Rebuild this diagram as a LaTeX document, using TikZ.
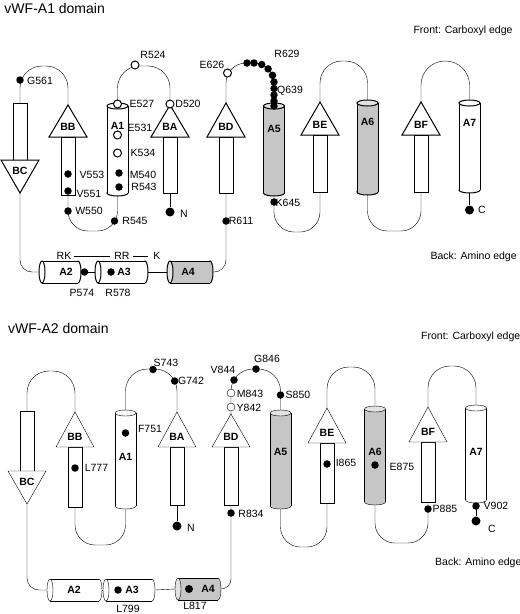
\documentclass[tikz,border=0pt]{standalone}
\usepackage{fontspec}
\setmainfont{Liberation Sans}
\pgfdeclarelayer{lines}
\pgfsetlayers{lines,main}
\colorlet{helixfill}{gray!45}
\tikzset{
  res/.style={circle, fill=black, inner sep=0pt, minimum size=7.5pt},
  bigres/.style={circle, fill=black, inner sep=0pt, minimum size=9pt},
  ores/.style={circle, draw=black, fill=white, inner sep=0pt, minimum size=8pt},
  lbl/.style={font=\fontsize{10.5}{12}\selectfont\bfseries, inner sep=0pt},
  txt/.style={font=\fontsize{10.5}{12}\selectfont, inner sep=0pt},
  ttl/.style={font=\fontsize{14}{16}\selectfont, inner sep=0pt, anchor=base west},
}
% strand pointing up: name, label, x, apex, base, bottom
\newcommand{\strandup}[6]{%
  \draw[fill=white] (#3-7,#5) rectangle (#3+7,#6);
  \draw[fill=white] (#3,#4) -- (#3-19,#5) -- (#3+19,#5) -- cycle;
  \node[lbl] (#1) at (#3,#5-10.5) {#2};
  \coordinate (#1-top) at (#3,#4);
  \coordinate (#1-bot) at (#3,#6);
}
% strand pointing down: name, label, x, top, base, tip
\newcommand{\stranddown}[6]{%
  \draw[fill=white] (#3-7,#4) rectangle (#3+7,#5);
  \draw[fill=white] (#3,#6) -- (#3-19,#5) -- (#3+19,#5) -- cycle;
  \node[lbl] (#1) at (#3,#5+11) {#2};
  \coordinate (#1-top) at (#3,#4);
  \coordinate (#1-bot) at (#3,#6);
}
% upright helix: name, label, x, top, bottom, fill, label y
\newcommand{\helixv}[7]{%
  \filldraw[fill=#6] (#3,#5) ellipse [x radius=10.5, y radius=3];
  \fill[#6] (#3-10.5,#4) rectangle (#3+10.5,#5);
  \draw (#3-10.5,#4) -- (#3-10.5,#5) (#3+10.5,#4) -- (#3+10.5,#5);
  \filldraw[fill=#6!50] (#3,#4) ellipse [x radius=10.5, y radius=3];
  \node[lbl] (#1) at (#3,#7) {#2};
  \coordinate (#1-top) at (#3,#4-3);
  \coordinate (#1-bot) at (#3,#5+3);
}
% lying helix: name, label, left, right, y, fill, label x
\newcommand{\helixh}[7]{%
  \filldraw[fill=#6] (#4,#5) ellipse [x radius=3, y radius=11];
  \fill[#6] (#3,#5-11) rectangle (#4,#5+11);
  \draw (#3,#5-11) -- (#4,#5-11) (#3,#5+11) -- (#4,#5+11);
  \filldraw[fill=#6!50] (#3,#5) ellipse [x radius=3, y radius=11];
  \node[lbl] (#1) at (#7,#5) {#2};
  \coordinate (#1-left) at (#3-3,#5);
  \coordinate (#1-right) at (#4+3,#5);
}
\begin{document}
\begin{tikzpicture}[x=1pt, y=-1pt, line width=1pt]
  \useasboundingbox (0,0) rectangle (520,614);

  % ---------- vWF-A1 ----------
  \node[ttl] (title1) at (4,13) {vWF-A1 domain};
  \node[txt, anchor=base west] (front1) at (413,33) {Front: Carboxyl edge};
  \node[txt, anchor=base west] (back1) at (430,259) {Back: Amino edge};

  % Elements
  \stranddown{BCt}{BC}{20}{103}{160}{193}
  \strandup{BBt}{BB}{68}{105}{137}{195}
  \strandup{BAt}{BA}{170}{105}{137}{193}
  \strandup{BDt}{BD}{226}{103}{137}{193}
  \strandup{BEt}{BE}{320}{102}{135}{192}
  \strandup{BFt}{BF}{421}{102}{135}{192}
  \helixv{A1t}{A1}{117.5}{106}{193}{white}{126}
  \helixv{A5t}{A5}{274}{106}{193}{helixfill}{129}
  \helixv{A6t}{A6}{367.5}{103}{192}{helixfill}{122}
  \helixv{A7t}{A7}{469.5}{103}{190}{white}{123}
  \helixh{A2t}{A2}{42}{78}{272}{white}{66}
  \helixh{A3t}{A3}{98}{145}{272}{white}{124}
  \helixh{A4t}{A4}{170}{210}{272}{helixfill}{188}

  % Residues
  \node[res] (G561) at (20,80) {};
  \node[ores] (R524) at (135,65) {};
  \node[ores] (E527) at (117.5,104) {};
  \node[ores] (D520) at (170,104) {};
  \node[ores] (E531) at (117.5,135) {};
  \node[ores] (K534) at (117.5,153) {};
  \node[res] (M540) at (119,173) {};
  \node[res] (R543) at (119,187) {};
  \node[res] (V553) at (68,174) {};
  \node[res] (V551) at (68,191) {};
  \node[res] (W550) at (68,211) {};
  \node[res] (R545) at (114.5,221) {};
  \node[bigres] (Nt) at (170,212) {};
  \node[ores] (E626) at (227.5,73) {};
  \foreach \x/\y [count=\i] in {247/63, 254/63, 261.7/64.5, 268.1/68.9, 272.5/75.3,
      274/82, 274/88.5, 274/95, 274/101, 274/106}
    \node[res] (loopdot\i) at (\x,\y) {};
  \node[res] (R611) at (226,221) {};
  \node[res] (K645) at (274,202) {};
  \node[bigres] (Ct) at (469.5,210) {};
  \node[res] (P574) at (84.5,272) {};
  \node[res] (R578) at (111,272) {};

  % Labels
  \node[txt] (G561-l) at (40,81) {G561};
  \node[txt] (R524-l) at (153,55) {R524};
  \node[txt] (E527-l) at (142,104) {E527};
  \node[txt] (D520-l) at (188,104) {D520};
  \node[txt] (E531-l) at (140,128) {E531};
  \node[txt] (K534-l) at (143,153) {K534};
  \node[txt] (M540-l) at (143,175) {M540};
  \node[txt] (R543-l) at (144,187) {R543};
  \node[txt] (V553-l) at (92,175) {V553};
  \node[txt] (V551-l) at (89,194) {V551};
  \node[txt] (W550-l) at (89,211) {W550};
  \node[txt] (R545-l) at (135,221) {R545};
  \node[txt] (Nt-l) at (184,214) {N};
  \node[txt] (E626-l) at (212,65) {E626};
  \node[txt] (R629-l) at (287,54) {R629};
  \node[txt] (Q639-l) at (290,91) {Q639};
  \node[txt] (R611-l) at (241,221) {R611};
  \node[txt] (K645-l) at (288,203) {K645};
  \node[txt] (Ct-l) at (482,210) {C};
  \node[txt] (P574-l) at (82,293) {P574};
  \node[txt] (R578-l) at (118,293) {R578};
  \node[txt] (RK) at (64,256) {RK};
  \node[txt] (RR) at (122,256) {RR};
  \node[txt] (K) at (157,256) {K};
  \draw[shorten <=2pt, shorten >=4pt] (RK) -- (RR);
  \draw[shorten <=3pt, shorten >=5pt] (RR) -- (K);

  % Edges
  \begin{pgfonlayer}{lines}
    \draw[rounded corners=22pt] (BCt-top) -- (20,66) -- (68,66) -- (BBt-top);
    \draw[rounded corners=22pt] (A1t-top) -- (117.5,66) -- (170,66) -- (BAt-top);
    \draw[rounded corners=20pt] (BBt-bot) -- (68,231) -- (117.5,231) -- (A1t-bot);
    \draw (BAt-bot) -- (Nt);
    \draw[rounded corners=20pt] (BDt-top) -- (226,63) -- (274,63) -- (A5t-top);
    \draw[rounded corners=12pt] (BDt-bot) -- (226,272) -- (A4t-right);
    \draw[rounded corners=20pt] (A5t-bot) -- (274,232) -- (320,232) -- (BEt-bot);
    \draw[rounded corners=22pt] (BEt-top) -- (320,61) -- (367.5,61) -- (A6t-top);
    \draw[rounded corners=20pt] (A6t-bot) -- (367.5,231) -- (421,231) -- (BFt-bot);
    \draw[rounded corners=24pt] (BFt-top) -- (421,61) -- (469.5,61) -- (A7t-top);
    \draw (A7t-bot) -- (Ct);
    \draw[rounded corners=12pt] (BCt-bot) -- (20,272) -- (A2t-left);
    \draw (A2t-right) -- (A3t-left);
    \draw (A3t-right) -- (A4t-left);
  \end{pgfonlayer}

  % ---------- vWF-A2 ----------
  \node[ttl] (title2) at (8,333) {vWF-A2 domain};
  \node[txt, anchor=base west] (front2) at (421,339) {Front: Carboxyl edge};
  \node[txt, anchor=base west] (back2) at (435,565) {Back: Amino edge};

  % Elements
  \stranddown{BCb}{BC}{27}{411}{471}{504}
  \strandup{BBb}{BB}{75}{412}{447}{507}
  \strandup{BAb}{BA}{177}{412}{447}{505}
  \strandup{BDb}{BD}{231}{414}{447}{505}
  \strandup{BEb}{BE}{327}{408}{443}{503}
  \strandup{BFb}{BF}{428}{407}{442}{502}
  \helixv{A1b}{A1}{125.5}{413}{506}{white}{457}
  \helixv{A5b}{A5}{280.5}{413}{506}{helixfill}{452}
  \helixv{A6b}{A6}{375}{409}{502}{helixfill}{452}
  \helixv{A7b}{A7}{476}{408}{500}{white}{452}
  \helixh{A2b}{A2}{50}{99}{590}{white}{74}
  \helixh{A3b}{A3}{106}{152}{590}{white}{132}
  \helixh{A4b}{A4}{178}{218}{589}{helixfill}{208}

  % Residues
  \node[res] (L777) at (75,468) {};
  \node[res] (F751) at (125.5,433) {};
  \node[res] (S743) at (153,369.5) {};
  \node[res] (G742) at (174.6,381) {};
  \node[res] (V844) at (234,380) {};
  \node[ores] (M843) at (231,393) {};
  \node[ores] (Y842) at (231,407) {};
  \node[res] (G846) at (256,369) {};
  \node[res] (S850) at (280.5,395) {};
  \node[res] (R834) at (231,513) {};
  \node[res] (I865) at (327,464) {};
  \node[res] (E875) at (375,465) {};
  \node[res] (P885) at (428,509) {};
  \node[res] (V902) at (476,506) {};
  \node[bigres] (Cb) at (476,521) {};
  \node[bigres] (Nb) at (177,526) {};
  \node[res] (L799) at (118,590) {};
  \node[res, minimum size=8pt] (L817) at (189,589) {};

  % Labels
  \node[txt] (L777-l) at (96.5,468) {L777};
  \node[txt] (F751-l) at (150,429) {F751};
  \node[txt] (S743-l) at (166,363) {S743};
  \node[txt] (G742-l) at (191,381) {G742};
  \node[txt] (V844-l) at (223,370) {V844};
  \node[txt] (M843-l) at (250,394) {M843};
  \node[txt] (Y842-l) at (249,408) {Y842};
  \node[txt] (G846-l) at (267,359) {G846};
  \node[txt] (S850-l) at (298,395) {S850};
  \node[txt] (R834-l) at (251,514) {R834};
  \node[txt] (I865-l) at (346,463) {I865};
  \node[txt] (E875-l) at (402,467) {E875};
  \node[txt] (P885-l) at (445,509) {P885};
  \node[txt] (V902-l) at (496,506) {V902};
  \node[txt] (Cb-l) at (492,529) {C};
  \node[txt] (Nb-l) at (191,528) {N};
  \node[txt] (L799-l) at (128,609) {L799};
  \node[txt] (L817-l) at (195,606) {L817};

  % Edges
  \begin{pgfonlayer}{lines}
    \draw[rounded corners=22pt] (BCb-top) -- (27,371) -- (75,371) -- (BBb-top);
    \draw[rounded corners=22pt] (A1b-top) -- (125.5,369) -- (177,369) -- (BAb-top);
    \draw[rounded corners=20pt] (BBb-bot) -- (75,545) -- (125.5,545) -- (A1b-bot);
    \draw (BAb-bot) -- (Nb);
    \draw[rounded corners=22pt] (BDb-top) -- (231,369) -- (280.5,369) -- (A5b-top);
    \draw[rounded corners=10pt] (BDb-bot) -- (231,589) -- (A4b-right);
    \draw[rounded corners=20pt] (A5b-bot) -- (280.5,547) -- (327,547) -- (BEb-bot);
    \draw[rounded corners=22pt] (BEb-top) -- (327,367) -- (375,367) -- (A6b-top);
    \draw[rounded corners=20pt] (A6b-bot) -- (375,543) -- (428,543) -- (BFb-bot);
    \draw[rounded corners=22pt] (BFb-top) -- (428,366) -- (476,366) -- (A7b-top);
    \draw (A7b-bot) -- (Cb);
    \draw[rounded corners=12pt] (BCb-bot) -- (27,590) -- (A2b-left);
    \draw (A2b-right) -- (A3b-left);
    \draw (A3b-right) -- (A4b-left);
  \end{pgfonlayer}
\end{tikzpicture}
\end{document}
